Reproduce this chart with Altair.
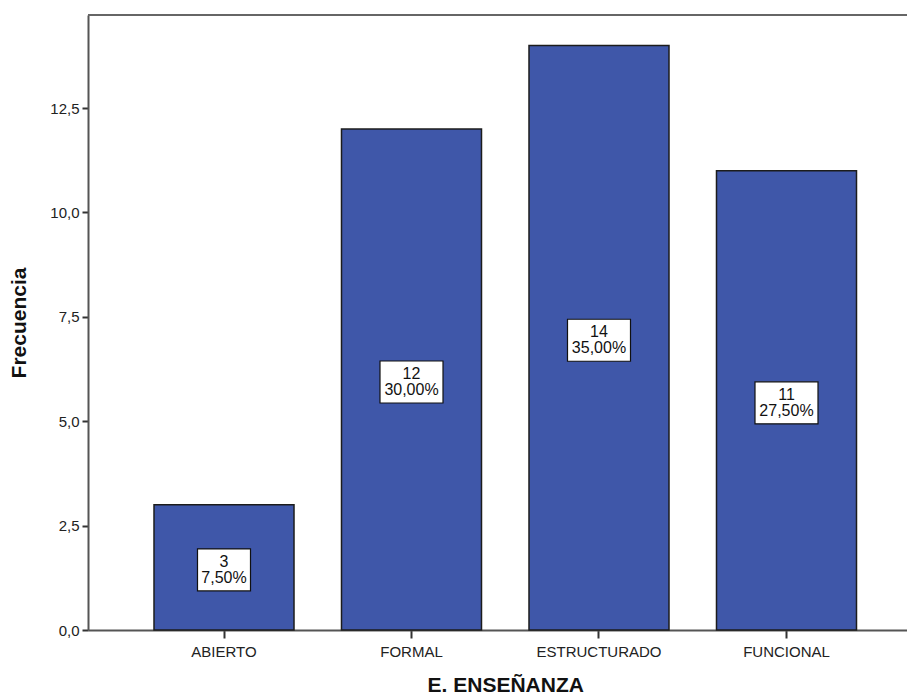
import altair as alt
import pandas as pd

# Estilo de enseñanza: frecuencias y porcentajes (n = 40)
categorias = ["ABIERTO", "FORMAL", "ESTRUCTURADO", "FUNCIONAL"]
frecuencias = [3, 12, 14, 11]
porcentajes = ["7,50%", "30,00%", "35,00%", "27,50%"]
ticks_y = [0, 2.5, 5, 7.5, 10, 12.5]

df = pd.DataFrame({"cat": categorias, "frec": frecuencias, "pct": porcentajes})

W, H = 819, 615
FONT = "Liberation Sans"

x_scale = alt.Scale(domain=categorias, range=[0, 834.5],
                    paddingInner=0.2533, paddingOuter=0.352)
y_scale = alt.Scale(domain=[0, 14.73], nice=False, zero=True)

x_axis = alt.Axis(
    title="E. ENSEÑANZA", labelAngle=0, labelFontSize=15, labelColor="#222",
    labelPadding=6, tickSize=8, tickWidth=2, tickColor="#333",
    domainColor="#555", domainWidth=2,
    titleFontSize=21, titleFontWeight="bold", titleColor="#111",
    titleX=417.25, titleY=61, titleBaseline="alphabetic",
)
y_axis = alt.Axis(
    title="Frecuencia", values=ticks_y, grid=False,
    labelExpr="replace(format(datum.value, '.1f'), '.', ',')",
    labelFontSize=15, labelColor="#222", labelPadding=3,
    tickSize=6, tickWidth=2, tickColor="#333",
    domainColor="#555", domainWidth=2,
    titleFontSize=21, titleFontWeight="bold", titleColor="#111",
    titleX=-69, titleY=H / 2, titleBaseline="middle", titleAngle=-90,
)

base = alt.Chart(df)

barras = base.mark_bar(color="#3f57a9", stroke="#1c1c1c", strokeWidth=1.5).encode(
    x=alt.X("cat:N", scale=x_scale, axis=x_axis, sort=categorias),
    y=alt.Y("frec:Q", scale=y_scale, axis=y_axis),
)

# Recuadros blancos con frecuencia y porcentaje en el centro de cada barra
cajas = base.transform_calculate(
    y0="datum.frec / 2 - 0.06 - 0.503",
    y1="datum.frec / 2 - 0.06 + 0.503",
    ancho="length(datum.pct) * 10 + 3",
).mark_bar(color="white", stroke="#111", strokeWidth=1.2).encode(
    x=alt.X("cat:N", scale=x_scale, sort=categorias),
    y=alt.Y("y0:Q", scale=y_scale),
    y2="y1:Q",
    size=alt.Size("ancho:Q", scale=None, legend=None),
)

textos = base.transform_calculate(
    etiqueta="datum.frec + '\\n' + datum.pct",
    ymid="datum.frec / 2",
).mark_text(font=FONT, fontSize=16, color="#111", lineBreak="\n",
            lineHeight=16, baseline="middle", align="center", dy=-5.5).encode(
    x=alt.X("cat:N", scale=x_scale, sort=categorias),
    y=alt.Y("ymid:Q", scale=y_scale),
    text="etiqueta:N",
)

borde_sup = alt.Chart(df).mark_rule(color="#666", strokeWidth=2).encode(
    x=alt.value(0), x2=alt.value(W), y=alt.value(0)
)

chart = alt.layer(barras, cajas, textos, borde_sup).properties(
    width=W, height=H,
    autosize=alt.AutoSizeParams(type="none"),
    padding={"left": 88, "top": 15, "right": 0, "bottom": 80},
).configure_view(
    stroke=None, fill="#f0f0f0"
).configure(
    font=FONT, background="white"
)

chart.save("out.html", embed_options={"renderer": "svg", "actions": False})
